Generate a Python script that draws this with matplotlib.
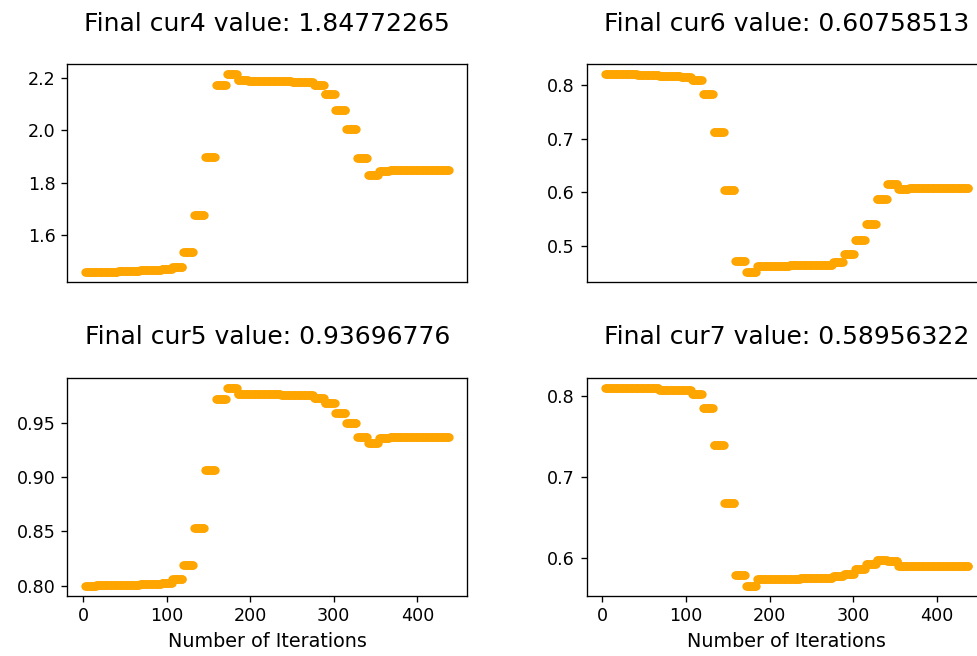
#!/usr/bin/env python

import numpy as np
import matplotlib
matplotlib.use("Agg")
import matplotlib.pyplot as plt
from matplotlib.ticker import MultipleLocator


# iteration numbers and the number of iterations that share one value
iterations = np.arange(3, 439)
block_len = 13

# value of each variable for every block of iterations
cur4 = [1.457, 1.458, 1.459, 1.460, 1.461, 1.465, 1.466, 1.468,
        1.478, 1.535, 1.676, 1.898, 2.173, 2.216,
        2.191, 2.190, 2.189, 2.189, 2.188, 2.187, 2.185,
        2.173, 2.139, 2.079, 2.006, 1.896, 1.829,
        1.845, 1.847, 1.848, 1.848, 1.848, 1.848, 1.84772265]

cur6 = [0.8200, 0.8195, 0.8190, 0.8185, 0.8180, 0.8160, 0.8155, 0.8150,
        0.8090, 0.7820, 0.7128, 0.6052, 0.4716, 0.4518,
        0.4630, 0.4635, 0.4640, 0.4645, 0.4650, 0.4655, 0.4660,
        0.4710, 0.4852, 0.5112, 0.5415, 0.5879, 0.6151,
        0.6070, 0.6073, 0.6075, 0.6075, 0.6076, 0.6076, 0.60758513]

cur5 = [0.8000, 0.8003, 0.8005, 0.8007, 0.8010, 0.8018, 0.8020, 0.8022,
        0.8058, 0.8187, 0.8528, 0.9061, 0.9718, 0.9822,
        0.9765, 0.9763, 0.9762, 0.9760, 0.9758, 0.9755, 0.9750,
        0.9727, 0.9681, 0.9592, 0.9500, 0.9371, 0.9310,
        0.9360, 0.9365, 0.9367, 0.9368, 0.9369, 0.9369, 0.93696776]

cur7 = [0.8105, 0.8104, 0.8102, 0.8100, 0.8098, 0.8080, 0.8077, 0.8074,
        0.8029, 0.7856, 0.7394, 0.6676, 0.5790, 0.5654,
        0.5735, 0.5738, 0.5740, 0.5742, 0.5745, 0.5748, 0.5752,
        0.5773, 0.5806, 0.5860, 0.5922, 0.5979, 0.5959,
        0.5900, 0.5898, 0.5897, 0.5896, 0.5896, 0.5896, 0.58956322]

names = ["cur4", "cur6", "cur5", "cur7"]
series = [cur4, cur6, cur5, cur7]
# y tick spacing per panel
y_steps = [0.2, 0.1, 0.05, 0.1]


def expand(blocks):
    # one value per iteration
    values = np.repeat(np.asarray(blocks), block_len)
    return values[:len(iterations)]


def main():
    dpi = 120
    fig, axes = plt.subplots(2, 2, figsize=(977 / dpi, 656 / dpi), dpi=dpi)
    fig.subplots_adjust(left=0.0689, right=1.0099, bottom=0.0919,
                        top=0.9024, wspace=0.2985, hspace=0.4385)

    for i, (ax, name, blocks) in enumerate(zip(axes.flat, names, series)):
        values = expand(blocks)
        ax.scatter(iterations, values, s=25, color="orange", linewidths=0)
        ax.set_title("Final {} value: {:.8f}".format(name, values[-1]),
                     fontsize=15, pad=20)
        ax.yaxis.set_major_locator(MultipleLocator(y_steps[i]))
        ax.tick_params(labelsize=10.5)
        if i < 2:
            ax.set_xticks([])
        else:
            ax.set_xlabel("Number of Iterations", fontsize=11.5)

    fig.savefig("out.png", dpi=dpi)
    plt.close(fig)


if __name__ == "__main__":
    main()
